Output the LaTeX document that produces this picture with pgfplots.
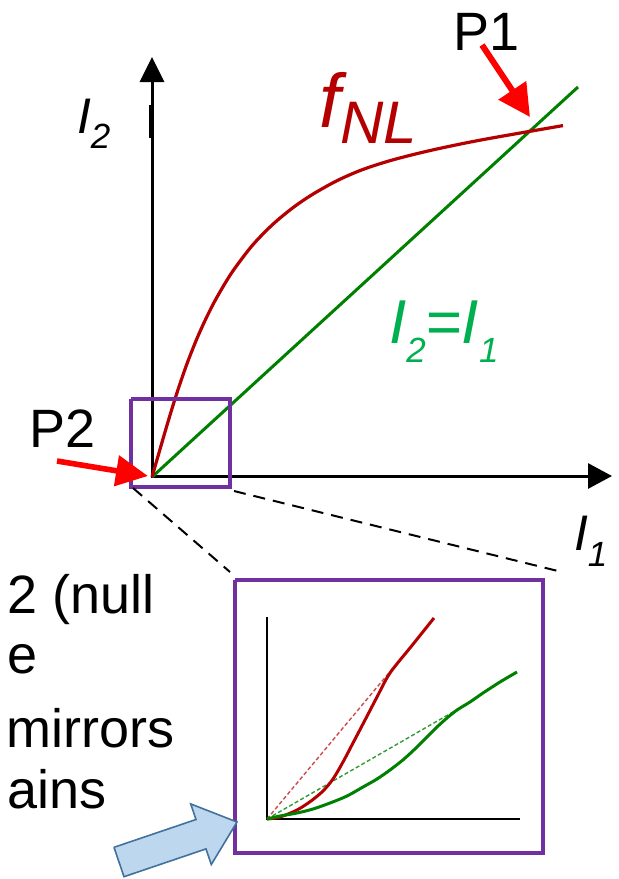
\documentclass[border=0pt]{standalone}
\usepackage{pgfplots}
\pgfplotsset{compat=1.18}
\usepackage{fontspec}
\setmainfont{Liberation Sans}
\usetikzlibrary{arrows.meta}
\definecolor{curvered}{RGB}{180,0,0}
\definecolor{linegreen}{RGB}{0,128,0}
\definecolor{textgreen}{RGB}{0,176,80}
\definecolor{boxpurple}{RGB}{112,48,160}
\definecolor{arrowred}{RGB}{255,0,0}
\definecolor{bluefill}{RGB}{189,215,238}
\definecolor{blueedge}{RGB}{65,113,156}
\begin{document}
\begin{tikzpicture}
\begin{axis}[
  width=309pt, height=439.5pt, scale only axis,
  xmin=0, xmax=618, ymin=0, ymax=879, y dir=reverse,
  axis lines=none, clip=false,
  every node/.append style={inner sep=0pt, outer sep=0pt},
]
% main axes
\addplot[black, line width=1.5pt, -{Triangle[length=12.5pt,width=12pt]}] coordinates {(152,477) (152,57)};
\addplot[black, line width=2.4pt] coordinates {(151.5,105) (151.5,138)};
\addplot[black, line width=1.5pt, -{Triangle[length=12pt,width=12.5pt]}] coordinates {(151,476) (612,476)};
% green line I2 = I1
\addplot[linegreen, line width=1.5pt] coordinates {(152,477) (578,87)};
% f_NL curve
\addplot[curvered, line width=1.6pt, smooth] coordinates {
(152,477) (167,425.2) (177,392.7) (187,363.7) (197,338.4) (207,316.4) (217,297.1)
(232,272.3) (252,245.8) (272,225.1) (292,208.4) (312,194.7) (337,180.7) (362,169.8)
(392,160.1) (432,150.1) (482,139.8) (563,125.6)};
% purple zoom box
\addplot[boxpurple, line width=2pt] coordinates {(131,399) (230,399) (230,487) (131,487) (131,399)};
% dashed connectors
\addplot[black, line width=1pt, dash pattern=on 6pt off 4pt] coordinates {(133,488) (230,572)};
\addplot[black, line width=1pt, dash pattern=on 6pt off 4pt] coordinates {(234,491) (562,572)};
% red arrows
\addplot[arrowred, line width=3pt, -{Triangle[length=16pt,width=16pt]}] coordinates {(482,45) (530,117)};
\addplot[arrowred, line width=2.8pt, -{Triangle[length=16pt,width=15pt]}] coordinates {(57,461) (148,476)};
% inset box
\addplot[boxpurple, line width=2.3pt] coordinates {(235,580) (543,580) (543,853) (235,853) (235,580)};
% inset axes
\addplot[black, line width=1.3pt] coordinates {(267,617) (267,819) (520,819)};
% inset dashed chords
\addplot[curvered!70, line width=0.7pt, dash pattern=on 2pt off 1.2pt] coordinates {(267,819) (393,668)};
\addplot[linegreen!80, line width=0.7pt, dash pattern=on 2pt off 1.2pt] coordinates {(267,819) (453,712)};
% inset curves
\addplot[curvered, line width=1.5pt, smooth] coordinates {
(267,819) (280,817) (297,810) (311,801) (323,791) (333,779) (343,762) (353,743)
(364,722) (377,697) (390,673) (412,645.5) (434,618)};
\addplot[linegreen, line width=1.5pt, smooth] coordinates {
(267,819) (280,816) (297,813) (313,809) (330,803) (347,796) (363,787) (377,779)
(390,770) (404,759) (417,747) (427,737) (437,727) (447,718) (457,710) (470,702)
(483,693) (500,682) (517,672)};
% blue block arrow
\addplot[fill=bluefill, draw=blueedge, line width=0.8pt] coordinates {
(114,847.3) (196,819.5) (190.7,803.9) (237,822) (211.3,864.5) (206,848.9) (124,876.7) (114,847.3)};
% texts
\node[anchor=base west, font=\fontsize{27}{30}\selectfont] at (axis cs:22,447) {P2};
\node[anchor=base west, font=\fontsize{27}{30}\selectfont] at (axis cs:446,50) {P1};
\node[anchor=base west] at (axis cs:70,133) {\fontsize{25}{28}\selectfont\itshape I\raisebox{-7.5pt}{\fontsize{17.5}{20}\selectfont 2}};
\node[anchor=base west] at (axis cs:567,550) {\fontsize{25}{28}\selectfont\itshape I\raisebox{-8pt}{\fontsize{17.5}{20}\selectfont 1}};
\node[anchor=base west, text=curvered] at (axis cs:312,127) {\fontsize{38}{40}\selectfont\itshape f\raisebox{-8pt}{\fontsize{30}{32}\selectfont NL}};
\node[anchor=base west, text=textgreen] at (axis cs:382,343) {\fontsize{31}{34}\selectfont\itshape I\raisebox{-9.5pt}{\fontsize{17.5}{20}\selectfont 2}=I\raisebox{-9.5pt}{\fontsize{17.5}{20}\selectfont 1}};
\node[anchor=base west, font=\fontsize{27}{30}\selectfont] at (axis cs:0,613) {2 (null};
\node[anchor=base west, font=\fontsize{27}{30}\selectfont] at (axis cs:0,673) {e};
\node[anchor=base west, font=\fontsize{27}{30}\selectfont] at (axis cs:-1,747) {mirrors};
\node[anchor=base west, font=\fontsize{27}{30}\selectfont] at (axis cs:0,808) {ains};
\coordinate (BL) at (axis cs:0,879);
\coordinate (TR) at (axis cs:618,0);
\end{axis}
\pgfresetboundingbox
\useasboundingbox (BL) rectangle (TR);
\end{tikzpicture}
\end{document}
